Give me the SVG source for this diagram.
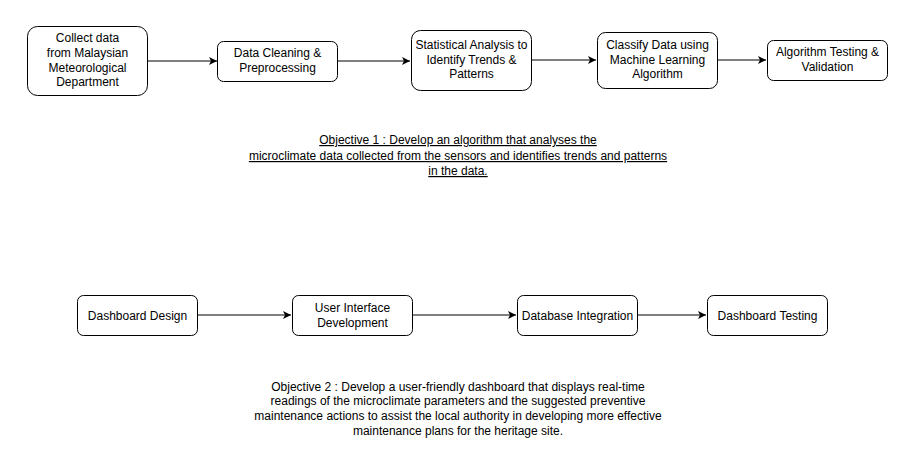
<svg xmlns="http://www.w3.org/2000/svg" width="918" height="473" viewBox="0 0 918 473">
<style>
.box{fill:#fff;stroke:#000;stroke-width:1}
.t{font-family:"Liberation Sans",Arial,sans-serif;font-size:12px;fill:#000;text-anchor:middle}
.u{text-decoration:underline}
.c{stroke:#000;stroke-width:1;fill:none;marker-end:url(#ah)}
</style>
<defs>
<marker id="ah" markerWidth="10" markerHeight="10" refX="8" refY="4" orient="auto" markerUnits="userSpaceOnUse">
<path d="M0,0 L8,4 L0,8 L2,4 Z" fill="#000"/>
</marker>
</defs>
<rect width="918" height="473" fill="#fff"/>
<g id="connectors">
<line class="c" x1="147" y1="61" x2="217" y2="61"/>
<line class="c" x1="337" y1="61" x2="410" y2="61"/>
<line class="c" x1="531" y1="60" x2="596" y2="60"/>
<line class="c" x1="717" y1="60" x2="766" y2="60"/>
<line class="c" x1="197" y1="315" x2="291" y2="315"/>
<line class="c" x1="412" y1="315" x2="516" y2="315"/>
<line class="c" x1="637" y1="315" x2="706" y2="315"/>
</g>
<g id="n1">
<rect class="box" x="27.5" y="26.5" width="120" height="69" rx="10"/>
<text class="t"><tspan x="87.5" y="42">Collect data</tspan><tspan x="87.5" y="57">from Malaysian</tspan><tspan x="87.5" y="72">Meteorological</tspan><tspan x="87.5" y="86">Department</tspan></text>
</g>
<g id="n2">
<rect class="box" x="217.5" y="41.5" width="120" height="40" rx="6"/>
<text class="t"><tspan x="277.5" y="57">Data Cleaning &amp;</tspan><tspan x="277.5" y="72">Preprocessing</tspan></text>
</g>
<g id="n3">
<rect class="box" x="411.5" y="30.5" width="120" height="60" rx="9"/>
<text class="t"><tspan x="471.5" y="49">Statistical Analysis to</tspan><tspan x="471.5" y="64">Identify Trends &amp;</tspan><tspan x="471.5" y="78">Patterns</tspan></text>
</g>
<g id="n4">
<rect class="box" x="597.5" y="32.5" width="120" height="56" rx="8"/>
<text class="t"><tspan x="657.5" y="49">Classify Data using</tspan><tspan x="657.5" y="64">Machine Learning</tspan><tspan x="657.5" y="78">Algorithm</tspan></text>
</g>
<g id="n5">
<rect class="box" x="767.5" y="40.5" width="120" height="40" rx="6"/>
<text class="t"><tspan x="827.5" y="56">Algorithm Testing &amp;</tspan><tspan x="827.5" y="71">Validation</tspan></text>
</g>
<g id="obj1">
<text class="t u"><tspan x="458" y="144">Objective 1 : Develop an algorithm that analyses the</tspan><tspan x="458" y="160">microclimate data collected from the sensors and identifies trends and patterns</tspan><tspan x="458" y="175">in the data.</tspan></text>
</g>
<g id="m1">
<rect class="box" x="77.5" y="295.5" width="120" height="40" rx="6"/>
<text class="t" x="137.5" y="320">Dashboard Design</text>
</g>
<g id="m2">
<rect class="box" x="292.5" y="295.5" width="120" height="40" rx="6"/>
<text class="t"><tspan x="352.5" y="312">User Interface</tspan><tspan x="352.5" y="327">Development</tspan></text>
</g>
<g id="m3">
<rect class="box" x="517.5" y="295.5" width="120" height="40" rx="6"/>
<text class="t" x="577.5" y="320">Database Integration</text>
</g>
<g id="m4">
<rect class="box" x="707.5" y="295.5" width="120" height="40" rx="6"/>
<text class="t" x="767.5" y="320">Dashboard Testing</text>
</g>
<g id="obj2">
<text class="t"><tspan x="458" y="391">Objective 2 : Develop a user-friendly dashboard that displays real-time</tspan><tspan x="458" y="405">readings of the microclimate parameters and the suggested preventive</tspan><tspan x="458" y="420">maintenance actions to assist the local authority in developing more effective</tspan><tspan x="458" y="435">maintenance plans for the heritage site.</tspan></text>
</g>
</svg>
